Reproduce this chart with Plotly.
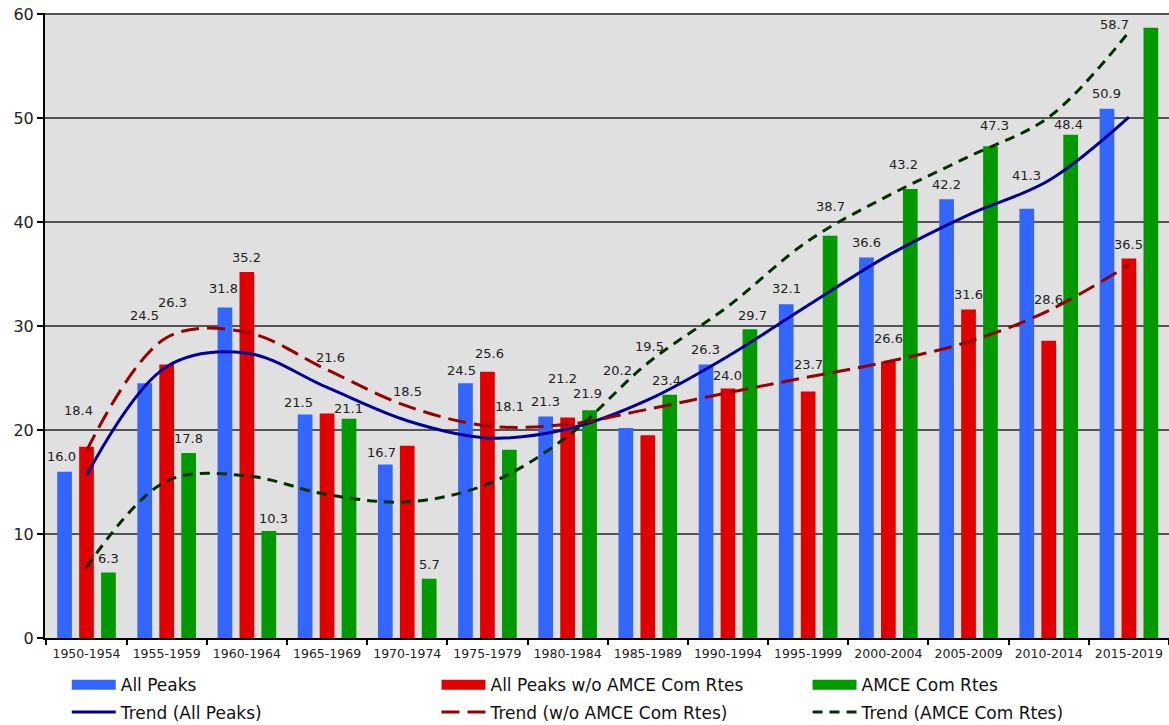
import plotly.graph_objects as go

# ---------------- data ----------------
categories = ["1950-1954", "1955-1959", "1960-1964", "1965-1969", "1970-1974",
              "1975-1979", "1980-1984", "1985-1989", "1990-1994", "1995-1999",
              "2000-2004", "2005-2009", "2010-2014", "2015-2019"]

all_peaks = [16.0, 24.5, 31.8, 21.5, 16.7, 24.5, 21.3, 20.2, 26.3, 32.1, 36.6, 42.2, 41.3, 50.9]
wo_amce = [18.4, 26.3, 35.2, 21.6, 18.5, 25.6, 21.2, 19.5, 24.0, 23.7, 26.6, 31.6, 28.6, 36.5]
amce = [6.3, 17.8, 10.3, 21.1, 5.7, 18.1, 21.9, 23.4, 29.7, 38.7, 43.2, 47.3, 48.4, 58.7]

# trend lines at each category centre
trend_all = [15.65, 26.1, 27.4, 24.1, 20.9, 19.25, 20.1, 22.9, 27.1, 32.0, 36.8, 40.7, 44.0, 50.1]
trend_wo = [18.0, 28.9, 29.4, 25.8, 22.3, 20.4, 20.55, 22.0, 23.6, 25.1, 26.6, 28.5, 31.5, 35.9]
trend_amce = [6.8, 15.1, 15.6, 13.8, 13.1, 14.8, 19.4, 26.45, 31.9, 38.2, 42.55, 46.3, 50.1, 58.3]

names = ["All Peaks", "All Peaks w/o AMCE Com Rtes", "AMCE Com Rtes"]
trend_names = ["Trend (All Peaks)", "Trend (w/o AMCE Com Rtes)", "Trend (AMCE Com Rtes)"]

# ---------------- styles / label placement (pixels) ----------------
bar_colors = ["#3366FF", "#E00000", "#009900"]
trend_colors = ["#000099", "#990000", "#003300"]
trend_dashes = ["solid", "18px,8px", "10px,7px"]
slot_offset = [-22, 0, 22]
legend_ids = ["legend", "legend2", "legend3"]
legend_x = [0.0571, 0.3734, 0.6908]

label_dx = [
    [-3, 0, -1, -7, -4, -4, 0, -8, 0, 0, 0, 0, 0, 0],
    [-8, 6, 0, 3, 0, 2, -5, 2, 0, 0, 0, 0, 0, 0],
    [0, 0, 5, -1, 0, 0, -2, -3, 3, 0, -7, 4, -2, -36],
]
label_dy = [
    [15, 68, 19, 12, 12, 13, 15, 58, 15, 16, 15, 15, 33, 15],
    [36, 62, 15, 56, 54, 18, 39, 89, 13, 27, 23, 15, 41, 14],
    [14, 14, 12, 10, 14, 43, 17, 14, 14, 29, 24, 21, 10, 3],
]

FONT = "DejaVu Sans"

fig = go.Figure()

series = [all_peaks, wo_amce, amce]
for name, vals, col in zip(names, series, bar_colors):
    fig.add_trace(go.Bar(x=categories, y=vals, name=name, marker_color=col,
                         marker_line_width=0, showlegend=False, hoverinfo="skip"))

# legend entries for bars (wide swatches) + trends, one legend per column
trend_series = [trend_all, trend_wo, trend_amce]
for k in range(3):
    fig.add_trace(go.Scatter(x=[None], y=[None], mode="lines", name=names[k],
                             legend=legend_ids[k], legendgroup=f"b{k}",
                             line=dict(color=bar_colors[k], width=10)))
    fig.add_trace(go.Scatter(x=categories, y=trend_series[k], mode="lines",
                             name=trend_names[k], legend=legend_ids[k],
                             legendgroup=f"t{k}",
                             line=dict(color=trend_colors[k], width=3, dash=trend_dashes[k],
                                       shape="spline", smoothing=1.0),
                             hoverinfo="skip"))

# data labels
for s, vals in enumerate(series):
    for i, (cat, v) in enumerate(zip(categories, vals)):
        fig.add_annotation(x=cat, y=v, xref="x", yref="y", text=f"{v:.1f}",
                           showarrow=False, xanchor="center", yanchor="middle",
                           xshift=slot_offset[s] + label_dx[s][i], yshift=label_dy[s][i],
                           font=dict(family=FONT, size=13, color="#222222"))

legend_common = dict(orientation="v", xref="container", yref="container",
                     xanchor="left", y=0.0796, yanchor="top",
                     font=dict(family=FONT, size=17, color="#111111"),
                     itemwidth=44, bgcolor="rgba(0,0,0,0)", traceorder="grouped",
                     tracegroupgap=2)

fig.update_layout(
    width=1169, height=725,
    margin=dict(l=45, r=0, t=13, b=87, autoexpand=False),
    paper_bgcolor="white",
    plot_bgcolor="#E0E0E0",
    barmode="group",
    bargap=0.179,
    bargroupgap=0.33,
    font=dict(family=FONT, color="#222222"),
    showlegend=True,
    legend=dict(x=legend_x[0], **legend_common),
    legend2=dict(x=legend_x[1], **legend_common),
    legend3=dict(x=legend_x[2], **legend_common),
)

fig.update_xaxes(type="category", showline=True, linecolor="black", linewidth=2,
                 ticks="outside", tickson="boundaries", ticklen=5, tickwidth=1.5,
                 tickcolor="black", showgrid=False, automargin=False,
                 ticklabeloverflow="allow", ticklabelstandoff=3,
                 tickfont=dict(family=FONT, size=12.5, color="#222222"))
fig.update_yaxes(range=[0, 60.12], tickvals=[0, 10, 20, 30, 40, 50, 60],
                 showline=True, linecolor="black", linewidth=2,
                 ticks="outside", ticklen=6, tickwidth=2, tickcolor="black",
                 showgrid=True, gridcolor="#555555", gridwidth=2, zeroline=False,
                 automargin=False, ticklabeloverflow="allow",
                 tickfont=dict(family=FONT, size=16, color="#222222"))

fig.write_html("out.html", config={"displayModeBar": False},
               post_script="document.body.style.margin='0';document.body.style.overflow='hidden';")
